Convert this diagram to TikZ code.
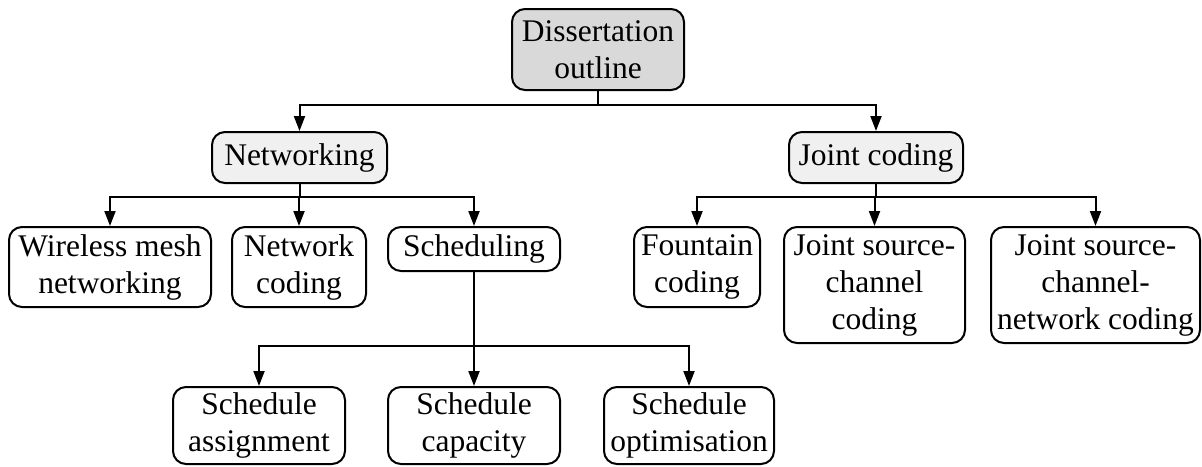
\documentclass[tikz,border=0pt]{standalone}
\usepackage{fontspec}
\setmainfont{Liberation Serif}
\usetikzlibrary{arrows.meta}
\definecolor{rootfill}{HTML}{D9D9D9}
\definecolor{groupfill}{HTML}{F0F0F0}
\begin{document}
\begin{tikzpicture}[x=1pt,y=-1pt,
  box/.style={draw=black, line width=2pt, rounded corners=13pt, fill=white,
    align=center, inner sep=0pt, font=\fontsize{31.5}{37}\selectfont},
  link/.style={line width=2pt, -{Triangle[length=15pt,width=11pt]}}]
\useasboundingbox (0,0) rectangle (1202,466);

% root
\node[box, fill=rootfill, minimum width=172pt, minimum height=81pt] (root) at (598,49.5) {Dissertation\\outline};

% second level
\node[box, fill=groupfill, minimum width=175pt, minimum height=51pt] (net) at (299.5,157.5) {Networking};
\node[box, fill=groupfill, minimum width=174pt, minimum height=51pt] (jc) at (876,157.5) {Joint coding};

% networking topics
\node[box, minimum width=202pt, minimum height=80pt] (wmn) at (110,267) {Wireless mesh\\networking};
\node[box, minimum width=134pt, minimum height=80pt] (nc) at (299,267) {Network\\coding};
\node[box, minimum width=172pt, minimum height=44pt] (sch) at (474,249) {Scheduling};

% joint coding topics
\node[box, minimum width=126pt, minimum height=80pt] (fc) at (697,267) {Fountain\\coding};
\node[box, minimum width=181pt, minimum height=116pt] (jscc) at (874.5,285) {Joint source-\\channel\\coding};
\node[box, minimum width=209pt, minimum height=116pt] (jscnc) at (1095.5,285) {Joint source-\\channel-\\network coding};

% scheduling topics
\node[box, minimum width=172pt, minimum height=77pt] (sa) at (259,425.5) {Schedule\\assignment};
\node[box, minimum width=172pt, minimum height=77pt] (scap) at (474,425.5) {Schedule\\capacity};
\node[box, minimum width=170pt, minimum height=77pt] (sopt) at (689,425.5) {Schedule\\optimisation};

% connectors
\draw[link] (root.south) -- ++(0,13.5) -| (net.north);
\draw[link] (root.south) -- ++(0,13.5) -| (jc.north);

\draw[link] (net.south) -- ++(0,12.5) -| (wmn.north);
\draw[link] (net.south) -- ++(0,12.5) -| (nc.north);
\draw[link] (net.south) -- ++(0,12.5) -| (sch.north);

\draw[link] (jc.south) -- ++(0,12.5) -| (fc.north);
\draw[link] (jc.south) -- ++(0,12.5) -| (jscc.north);
\draw[link] (jc.south) -- ++(0,12.5) -| (jscnc.north);

\draw[link] (sch.south) -- ++(0,74) -| (sa.north);
\draw[link] (sch.south) -- ++(0,74) -| (scap.north);
\draw[link] (sch.south) -- ++(0,74) -| (sopt.north);
\end{tikzpicture}
\end{document}
